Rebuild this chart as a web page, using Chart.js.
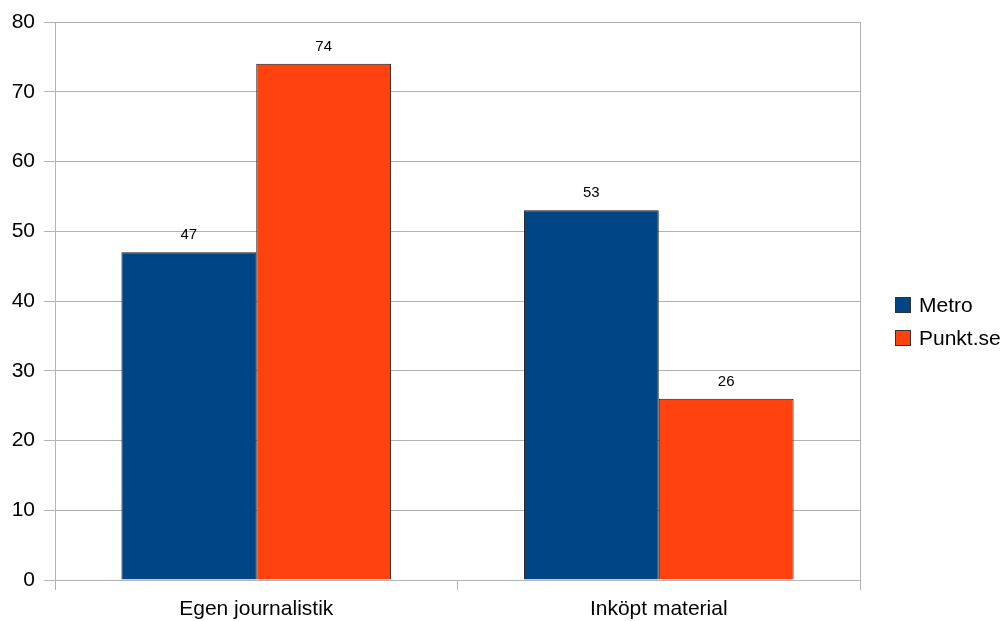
<!DOCTYPE html>
<html>
<head>
<meta charset="utf-8">
<script src="https://cdn.jsdelivr.net/npm/chart.js@4/dist/chart.umd.min.js"></script>
<style>
  html, body { margin: 0; padding: 0; background: #fff; }
  #wrap { width: 1008px; height: 621px; }
</style>
</head>
<body>
<div id="wrap"><canvas id="barChart" width="1008" height="621"></canvas></div>
<script>
const categories = ['Egen journalistik', 'Inköpt material'];
const metroValues = [47, 53];
const punktValues = [74, 26];
const seriesNames = ['Metro', 'Punkt.se'];
const yTicks = [0, 10, 20, 30, 40, 50, 60, 70, 80];

const gridGray = '#b3b3b3';
const fontFam = '"Liberation Sans", Arial, sans-serif';

// value labels above each bar
const valueLabels = {
    id: 'valueLabels',
    afterDatasetsDraw(chart) {
        const ctx = chart.ctx;
        ctx.save();
        ctx.font = '15px ' + fontFam;
        ctx.fillStyle = '#000';
        ctx.textAlign = 'center';
        ctx.textBaseline = 'middle';
        chart.data.datasets.forEach((ds, i) => {
            chart.getDatasetMeta(i).data.forEach((bar, j) => {
                ctx.fillText(ds.data[j], bar.x, bar.y - 17);
            });
        });
        ctx.restore();
    }
};

// right frame line + legend on the right side
const sideLegend = {
    id: 'sideLegend',
    beforeDatasetsDraw(chart) {
        const a = chart.chartArea;
        const ctx = chart.ctx;
        ctx.save();
        ctx.strokeStyle = gridGray;
        ctx.lineWidth = 1;
        ctx.beginPath();
        ctx.moveTo(Math.round(a.right) + 0.5, a.top);
        ctx.lineTo(Math.round(a.right) + 0.5, a.bottom);
        ctx.stroke();
        ctx.restore();
    },
    afterDraw(chart) {
        const ctx = chart.ctx;
        ctx.save();
        ctx.font = '21px ' + fontFam;
        ctx.textBaseline = 'middle';
        chart.data.datasets.forEach((ds, i) => {
            const y = 305 + i * 33;
            ctx.fillStyle = ds.backgroundColor;
            ctx.fillRect(895.5, y - 7.5, 15, 15);
            ctx.strokeStyle = '#333';
            ctx.lineWidth = 1;
            ctx.strokeRect(895.5, y - 7.5, 15, 15);
            ctx.fillStyle = '#000';
            ctx.fillText(ds.label, 919, y + 1);
        });
        ctx.restore();
    }
};

const ctx = document.getElementById('barChart').getContext('2d');
const barChart = new Chart(ctx, {
    type: 'bar',
    data: {
        labels: categories,
        datasets: [
            {
                label: seriesNames[0],
                data: metroValues,
                backgroundColor: '#004586',
                borderColor: '#1a1a1a',
                borderWidth: 1,
            },
            {
                label: seriesNames[1],
                data: punktValues,
                backgroundColor: '#ff420e',
                borderColor: '#1a1a1a',
                borderWidth: 1,
            },
        ],
    },
    options: {
        responsive: false,
        animation: false,
        layout: { padding: { top: 22, right: 148, left: 0, bottom: 0 } },
        datasets: { bar: { barPercentage: 1, categoryPercentage: 0.67 } },
        plugins: {
            legend: { display: false },
            tooltip: { enabled: false },
        },
        scales: {
            x: {
                grid: {
                    drawOnChartArea: false,
                    tickColor: gridGray,
                    tickLength: 10,
                },
                border: { color: gridGray },
                ticks: {
                    color: '#000',
                    font: { family: fontFam, size: 21 },
                    padding: 7,
                },
                afterFit(scale) { scale.height = 41; },
            },
            y: {
                min: 0,
                max: 80,
                afterBuildTicks(scale) { scale.ticks = yTicks.map(v => ({ value: v })); },
                grid: { color: gridGray, tickLength: 11 },
                border: { color: gridGray },
                ticks: {
                    color: '#000',
                    font: { family: fontFam, size: 21 },
                    padding: 9,
                },
                afterFit(scale) { scale.width = 55; },
            },
        },
    },
    plugins: [valueLabels, sideLegend],
});
</script>
</body>
</html>
